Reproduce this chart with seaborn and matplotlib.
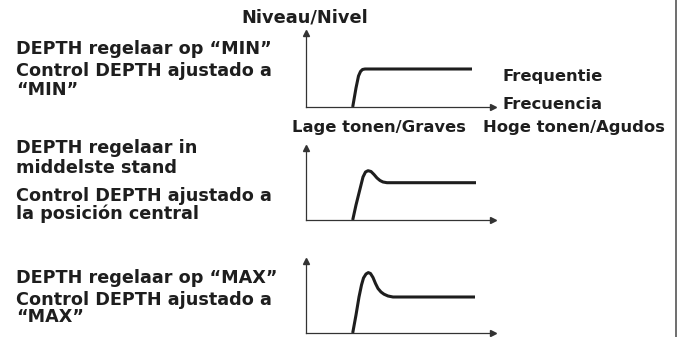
import pandas as pd
import seaborn as sns
import matplotlib.pyplot as plt
from matplotlib.lines import Line2D

# curves, x = frequency (rel. to level axis), y = level (rel. to frequency axis)
freq_min = [46.7, 50, 52.5, 54.5, 56.5, 59, 62, 100, 166]
level_min = [0, 19, 31, 35.5, 37.5, 38, 38, 38, 38]

freq_mid = [46.7, 50, 54, 57, 59.5, 62, 65, 68, 71, 74, 77, 81, 100, 170]
level_mid = [0, 15, 31, 43, 48, 49.3, 48.5, 45.5, 42, 39.5, 38, 37.3, 37.3, 37.3]

freq_max = [46.7, 50, 53, 55.5, 57.5, 60, 62.3, 64.5, 67, 69.5, 72, 75, 78, 82, 87, 110, 169]
level_max = [0, 18, 36, 48, 55, 59, 60.4, 59.5, 55.5, 49.5, 44.5, 41, 38.8, 37, 36, 36, 36]

labels_min = ["DEPTH regelaar op \u201cMIN\u201d", "Control DEPTH ajustado a", "\u201cMIN\u201d"]
labels_mid = ["DEPTH regelaar in", "middelste stand", "Control DEPTH ajustado a",
              "la posici\u00f3n central"]
labels_max = ["DEPTH regelaar op \u201cMAX\u201d", "Control DEPTH ajustado a", "\u201cMAX\u201d"]

W, H = 679, 337
INK = "#1e1e1e"

sns.set_style("white")
plt.rcParams['font.family'] = ['DejaVu Sans']
plt.rcParams['font.weight'] = 'bold'

fig = plt.figure(figsize=(W / 100, H / 100), dpi=100)


def px(x, y):
    return x / W, 1 - y / H


def panel(top, base, freq, level):
    left, bottom = px(306, base)
    ax = fig.add_axes([left, bottom, 187 / W, (base - top) / H])
    df = pd.DataFrame({"freq": freq, "level": level})
    sns.lineplot(data=df, x="freq", y="level", sort=False, ax=ax,
                 color=INK, linewidth=2.2, solid_joinstyle="round",
                 solid_capstyle="butt")
    ax.set_xlim(0, 187)
    ax.set_ylim(0, base - top)
    ax.set_xticks([])
    ax.set_yticks([])
    ax.set_xlabel("")
    ax.set_ylabel("")
    for s in ["top", "right"]:
        ax.spines[s].set_visible(False)
    for s in ["left", "bottom"]:
        ax.spines[s].set_color("#333333")
        ax.spines[s].set_linewidth(0.9)
    ax.patch.set_alpha(0)
    ax.plot(1, 0, ">", transform=ax.transAxes, clip_on=False,
            color="#333333", markersize=5)
    ax.plot(0, 1, "^", transform=ax.transAxes, clip_on=False,
            color="#333333", markersize=5)
    return ax


panel(33, 107, freq_min, level_min)
panel(148, 220, freq_mid, level_mid)
panel(261, 333, freq_max, level_max)


def txt(x, y, s, size, ha="left"):
    fig.text(*px(x, y), s, fontsize=size, ha=ha, va="baseline",
             color=INK, fontweight="bold")


txt(305, 23, "Niveau/Nivel", 12.8, ha="center")
txt(503, 81, "Frequentie", 11.8)
txt(503, 109, "Frecuencia", 11.8)
txt(292, 132, "Lage tonen/Graves", 11.8)
txt(483, 132, "Hoge tonen/Agudos", 11.8)

for s, y in zip(labels_min, [54, 76.5, 95]):
    txt(16, y, s, 12.7)
for s, y in zip(labels_mid, [153, 173, 201, 219]):
    txt(16, y, s, 12.7)
for s, y in zip(labels_max, [283, 305, 322]):
    txt(16, y, s, 12.7)

fig.add_artist(Line2D([676 / W, 676 / W], [0, 1], color="#555555", linewidth=1.2))

fig.savefig("out.png", dpi=100)
